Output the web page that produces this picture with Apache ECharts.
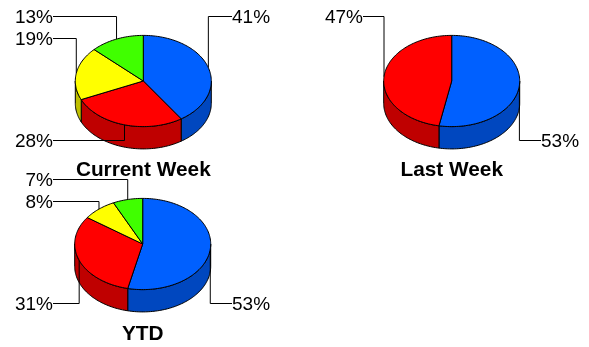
<!DOCTYPE html>
<html><head><meta charset="utf-8">
<style>html,body{margin:0;padding:0;background:#fff}#c{width:589px;height:347px}</style>
<script src="https://cdn.jsdelivr.net/npm/echarts@6/dist/echarts.min.js"></script>
</head><body><div id="c"></div>
<script>
const currentWeekValues = [41, 28, 19, 13];
const lastWeekValues = [53, 47];
const ytdValues = [53, 31, 8, 7];
const pieTitles = ['Current Week', 'Last Week', 'YTD'];

const topColors = ['#0060ff', '#ff0000', '#ffff00', '#40ff00'];
const wallColors = ['#0047bf', '#bf0000', '#bfbf00', '#30bf00'];
const FONT = '"Liberation Sans", Arial, sans-serif';
const RX = 68, RY = 45.6, DEPTH = 22.3;

// layout: centre of each pie, leader label side (-1 left, 1 right) and leader height per slice
const layouts = [
  { values: currentWeekValues, cx: 143.3, cy: 81, sides: [1, -1, -1, -1], labelY: [16.5, 140.5, 38.5, 16.5], leftX: 53, rightX: 232, titleY: 170 },
  { values: lastWeekValues, cx: 451.7, cy: 81, sides: [1, -1], labelY: [140.5, 16.5], leftX: 363, rightX: 541, titleY: 170 },
  { values: ytdValues, cx: 142.7, cy: 244, sides: [1, -1, -1, -1], labelY: [303.5, 303.5, 201.5, 179.5], leftX: 53, rightX: 232, titleY: 334 }
];

function pt(l, frac, dy) {
  const a = frac * 2 * Math.PI;
  return [l.cx + RX * Math.sin(a), l.cy - RY * Math.cos(a) + (dy || 0)];
}
function arc(l, from, to, dy) {
  const n = Math.max(2, Math.ceil((to - from) * 240));
  const out = [];
  for (let i = 0; i <= n; i++) out.push(pt(l, from + (to - from) * i / n, dy));
  return out;
}

function makeRender(l) {
  const total = l.values.reduce((a, b) => a + b, 0);
  return function (params, api) {
    const i = params.dataIndex;
    let before = 0;
    for (let k = 0; k < i; k++) before += l.values[k];
    const value = api.value(0);
    const start = before / total, end = (before + value) / total, mid = (start + end) / 2;
    const children = [];

    // visible wall: front half of the ellipse only
    const ws = Math.max(start, 0.25), we = Math.min(end, 0.75);
    if (we > ws) {
      const wallPts = arc(l, ws, we, 0).concat(arc(l, ws, we, DEPTH).reverse());
      children.push({ type: 'polygon', z2: 1, shape: { points: wallPts },
        style: { fill: wallColors[i], stroke: '#000', lineWidth: 1, lineJoin: 'round' } });
    }

    // leader line: from the rim at the slice's mid angle, vertical, then horizontal to the label
    const anchor = pt(l, mid, 0);
    const side = l.sides[i], y = l.labelY[i];
    const labelX = side < 0 ? l.leftX : l.rightX;
    children.push({ type: 'polyline', z2: 2,
      shape: { points: [anchor, [anchor[0], y], [labelX, y]] },
      style: { fill: null, stroke: '#000', lineWidth: 1 } });

    // top face
    const topPts = [[l.cx, l.cy]].concat(arc(l, start, end, 0));
    children.push({ type: 'polygon', z2: 3, shape: { points: topPts },
      style: { fill: topColors[i], stroke: '#000', lineWidth: 1, lineJoin: 'round' } });

    // percentage label
    children.push({ type: 'text', z2: 4, x: labelX, y: y + 1,
      style: { text: value + '%', font: '19px ' + FONT, fill: '#000',
        align: side < 0 ? 'right' : 'left', verticalAlign: 'middle' } });

    return { type: 'group', children };
  };
}

const chart = echarts.init(document.getElementById('c'), null, { renderer: 'canvas' });
chart.setOption({
  animation: false,
  backgroundColor: '#fff',
  title: layouts.map((l, i) => ({
    text: pieTitles[i], left: l.cx, top: l.titleY, textAlign: 'center', textVerticalAlign: 'middle', padding: 0,
    textStyle: { fontFamily: FONT, fontSize: 20.8, fontWeight: 'bold', color: '#000' }
  })),
  series: layouts.map(l => ({
    type: 'custom', coordinateSystem: 'none', silent: true,
    data: l.values.map(v => [v]),
    renderItem: makeRender(l)
  }))
});
</script></body></html>
